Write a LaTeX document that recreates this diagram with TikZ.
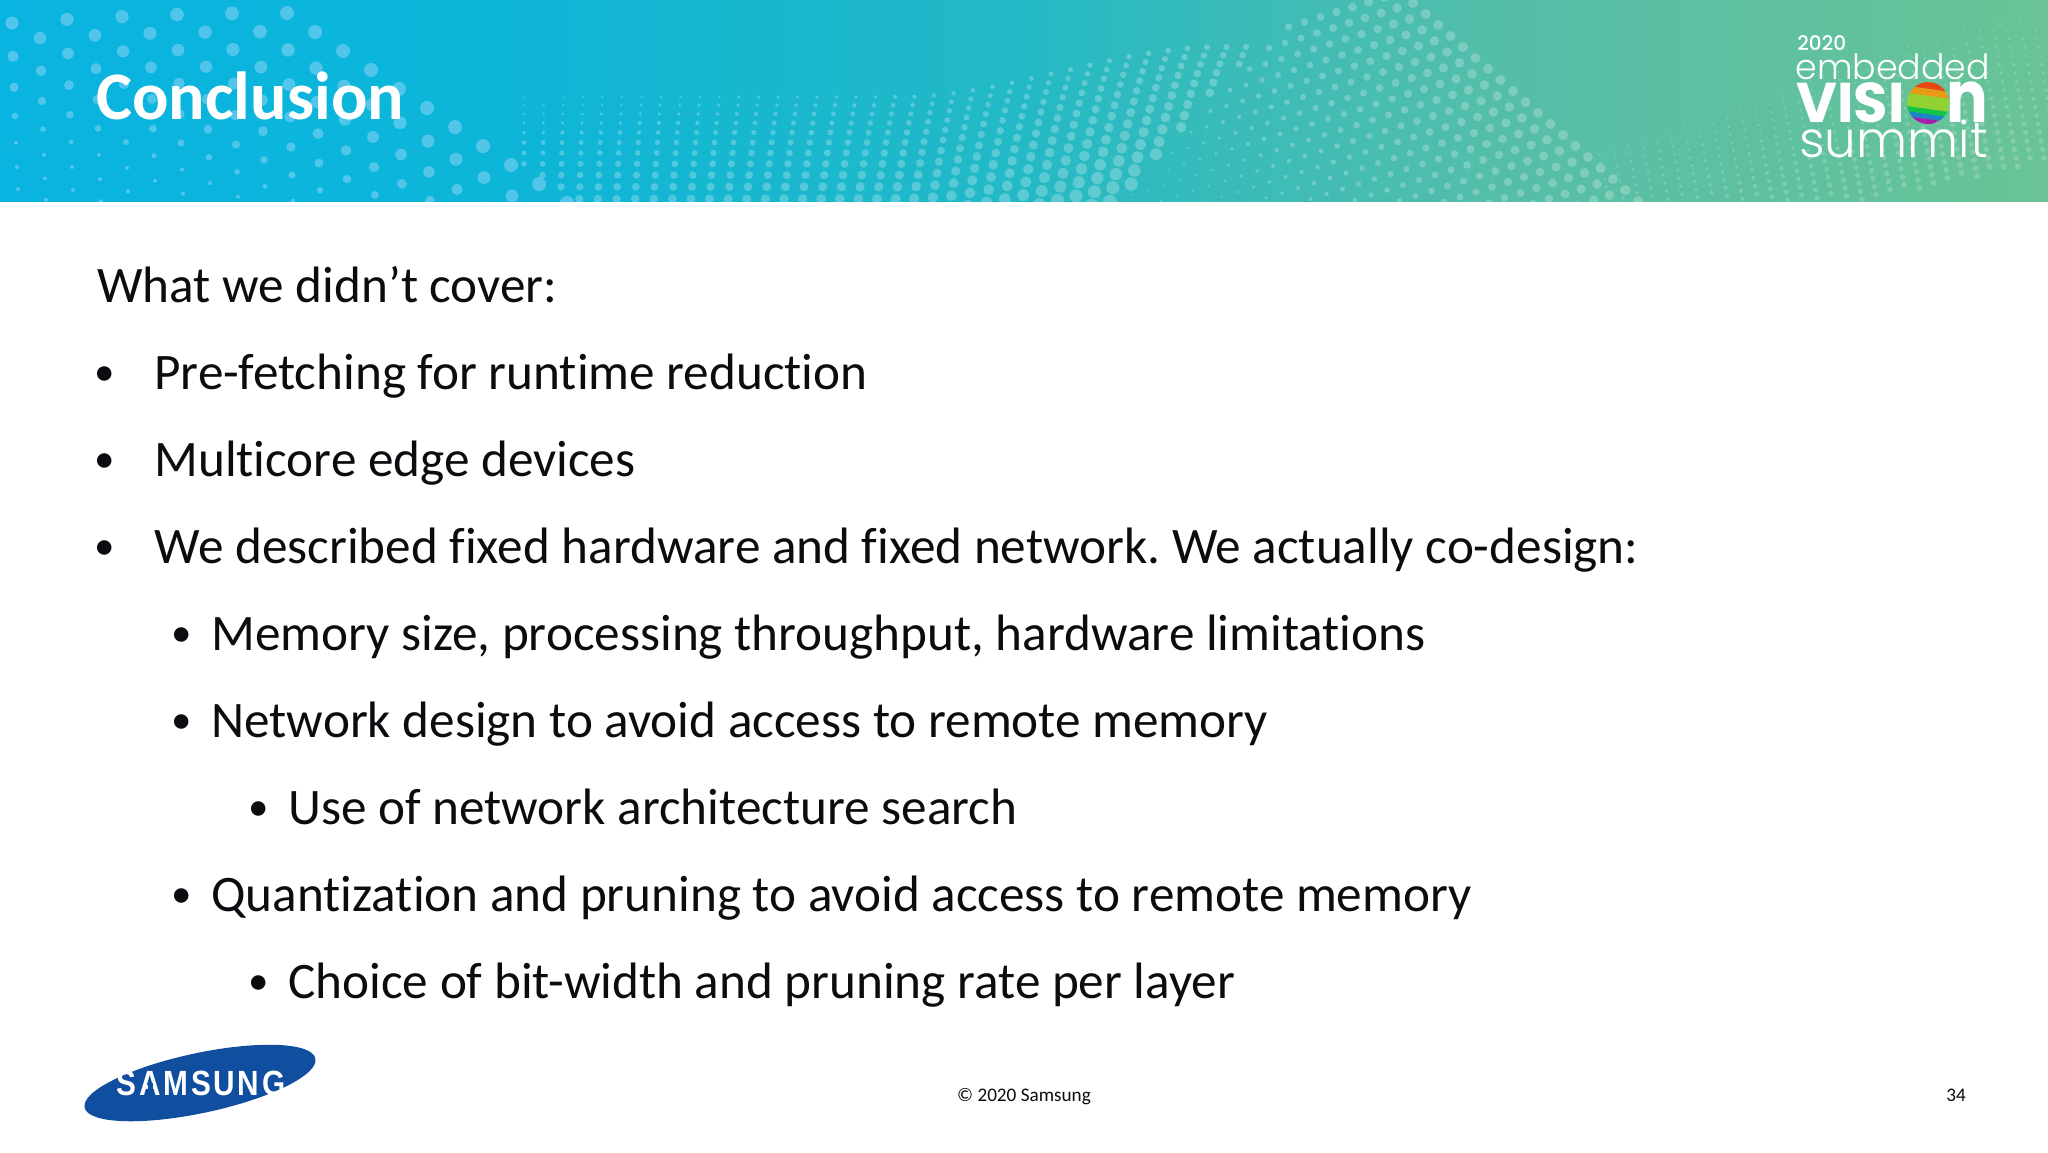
\documentclass[tikz,border=0pt]{standalone}
\usepackage{fontspec}
\setmainfont{Carlito}[Ligatures=NoCommon]
\newfontfamily\logofont{Poppins}[UprightFont=* Light,BoldFont=* Bold]
\newfontfamily\logoyearfont{Poppins}[UprightFont=* Medium]
\newfontfamily\logonfont{Poppins}[UprightFont=* Bold,FakeStretch=0.86]
\newfontfamily\samsungfont{Liberation Sans}[FakeStretch=0.85,LetterSpace=8]
\usetikzlibrary{positioning}
\definecolor{bannerleft}{RGB}{10,180,224}
\definecolor{bannerquarter}{RGB}{13,181,216}
\definecolor{bannermid}{RGB}{36,185,198}
\definecolor{bannerthird}{RGB}{85,190,169}
\definecolor{bannerright}{RGB}{105,195,150}
\definecolor{dotblue}{RGB}{150,215,250}
\definecolor{samsungblue}{RGB}{16,78,160}
\definecolor{bodyink}{RGB}{12,12,16}
\pgfdeclarehorizontalshading{bannerfill}{100bp}{color(0bp)=(bannerleft); color(25bp)=(bannerleft); color(37.2bp)=(bannerquarter); color(50bp)=(bannermid); color(61.6bp)=(bannerthird); color(75bp)=(bannerright); color(100bp)=(bannerright)}
\tikzstyle{titletext} = [anchor=base west, inner sep=0pt, text=white, font=\fontsize{34}{40}\selectfont\bfseries]
\tikzstyle{bodytext} = [anchor=base west, inner sep=0pt, text=bodyink, font=\frenchspacing\fontsize{25.6}{30}\selectfont]
\tikzstyle{bulletmark} = [anchor=base, inner sep=0pt, text=bodyink, font=\fontsize{20.5}{24}\selectfont]
\tikzstyle{footertext} = [anchor=base, inner sep=0pt, text=bodyink, font=\fontsize{9.6}{12}\selectfont]
\tikzstyle{logotext} = [anchor=base west, inner sep=0pt, text=white]

\begin{document}
\begin{tikzpicture}[x=0.5pt, y=-0.5pt]
\useasboundingbox (0,0) rectangle (2048,1152);
\fill[white] (0,0) rectangle (2048,1152);

% banner
\begin{scope}
\clip (0,0) rectangle (2048,201);
\shade[shading=bannerfill] (0,0) rectangle (2048,201);

% dots top left
\foreach \u in {0,...,22} {
  \foreach \v in {0,...,14} {
    \pgfmathsetmacro{\dx}{287+28*\u-55*\v}
    \pgfmathsetmacro{\dy}{13+19*\u*(1-0.04*\v)+0.4*\v*\v}
    \pgfmathsetmacro{\dr}{max(2,7-\v*(0.1+0.06*\u))}
    \fill[dotblue, opacity=0.5] (\dx,\dy) circle [radius=\dr];
  }
}
% dots bottom middle
\foreach \c in {0,...,38} {
  \foreach \r in {0,...,13} {
    \pgfmathsetmacro{\dx}{505+19.5*\c-\r*\c*0.09}
    \pgfmathsetmacro{\st}{min(1,max(0,(\dx-900)/320))}
    \pgfmathsetmacro{\top}{97-50*\st*\st*(3-2*\st)}
    \pgfmathsetmacro{\dy}{\top+8*\r+0.22*\r*\r}
    \pgfmathtruncatemacro{\keep}{and(\dx<1226-0.87*(\dy-80),\dx>max(505,297+(\dy-13)*1.47))}
    \ifnum\keep=1
      \pgfmathsetmacro{\dr}{0.8+(\dy-\top)*0.03+\c*0.06}
      \fill[white, opacity=0.25] (\dx,\dy) circle [radius=\dr];
    \fi
  }
}
% dots right of the middle
\foreach \u in {-2,...,18} {
  \foreach \v in {0,...,30} {
    \pgfmathsetmacro{\dx}{1413+12.5*\u-16*\v}
    \pgfmathsetmacro{\dy}{3+11*\u+5*\v}
    \pgfmathtruncatemacro{\keep}{and(\dx>1232-0.87*(\dy-80),\dy>58-(\dx-1150)*0.325)}
    \ifnum\keep=1
      \pgfmathsetmacro{\dr}{max(1,5-0.2*\v)}
      \fill[white, opacity=0.24] (\dx,\dy) circle [radius=\dr];
    \fi
  }
}
% dots right hill
\foreach \c in {0,...,33} {
  \foreach \r in {0,...,20} {
    \pgfmathsetmacro{\dx}{1600+14*\c+\r*1.5}
    \pgfmathsetmacro{\top}{max(22,155-(\dx-1600)*0.35)}
    \pgfmathsetmacro{\dy}{\top+8.5*\r}
    \pgfmathtruncatemacro{\keep}{\dy<200-max(0,\dx-1860)*0.2}
    \ifnum\keep=1
      \pgfmathsetmacro{\dr}{1+\r*0.12}
      \fill[white, opacity=0.18] (\dx,\dy) circle [radius=\dr];
    \fi
  }
}
\end{scope}

\node (title) [titletext] at (96,119) {Conclusion};

% summit logo
\node (logoyear) [logotext, font=\logoyearfont\fontsize{10}{11}\selectfont] at (1797,50) {2020};
\node (logoembedded) [logotext, font=\logofont\fontsize{17.4}{22}\selectfont] at (1795,79) {embedded};
\node (logovision) [logotext, font=\logofont\bfseries\fontsize{28}{32}\selectfont] at (1796,122) {VISI};
\node (logon) [logotext, font=\logonfont\fontsize{36}{40}\selectfont] at (1946,122) {n};
\node (logosummit) [logotext, font=\logofont\fontsize{25}{28}\selectfont] at (1799,157) {summit};
\begin{scope}
\clip (1928,103) circle [radius=21];
\begin{scope}[rotate around={-8:(1928,103)}, opacity=0.85]
\fill[red!60!orange] (1890,75) rectangle (1966,89);
\fill[orange!85!yellow] (1890,89) rectangle (1966,96);
\fill[yellow!60!green] (1890,96) rectangle (1966,109);
\fill[green!55!teal] (1890,109) rectangle (1966,114);
\fill[cyan!60!blue] (1890,114) rectangle (1966,119);
\fill[violet!60!magenta] (1890,119) rectangle (1966,130);
\end{scope}
\end{scope}

% body
\node (cover) [bodytext] at (97,302) {What we didn’t cover:};
\node (bullet1) [bulletmark] at (105,385) {•};
\node (item1) [bodytext] at (154,389) {Pre-fetching for runtime reduction};
\node (bullet2) [bulletmark] at (105,472) {•};
\node (item2) [bodytext] at (154,476) {Multicore edge devices};
\node (bullet3) [bulletmark] at (105,559) {•};
\node (item3) [bodytext] at (154,563) {We described fixed hardware and fixed network. We actually co-design:};
\node (bullet4) [bulletmark] at (182,646) {•};
\node (item4) [bodytext] at (211,650) {Memory size, processing throughput, hardware limitations};
\node (bullet5) [bulletmark] at (182,733) {•};
\node (item5) [bodytext] at (211,737) {Network design to avoid access to remote memory};
\node (bullet6) [bulletmark] at (259,820) {•};
\node (item6) [bodytext] at (288,824) {Use of network architecture search};
\node (bullet7) [bulletmark] at (182,907) {•};
\node (item7) [bodytext] at (211,911) {Quantization and pruning to avoid access to remote memory};
\node (bullet8) [bulletmark] at (259,994) {•};
\node (item8) [bodytext] at (288,998) {Choice of bit-width and pruning rate per layer};

% footer
\fill[samsungblue, rotate around={12:(200,1083)}] (200,1083) ellipse [x radius=118, y radius=30];
\node (samsung) [inner sep=0pt, text=white, font=\samsungfont\bfseries\fontsize{17.5}{20}\selectfont] at (201,1083) {SAMSUNG};
\fill[samsungblue] (147.5,1083) rectangle (152.5,1090);
\node (copyright) [footertext] at (1024,1101) {© 2020 Samsung};
\node (pagenum) [footertext] at (1956,1101) {34};
\end{tikzpicture}
\end{document}
